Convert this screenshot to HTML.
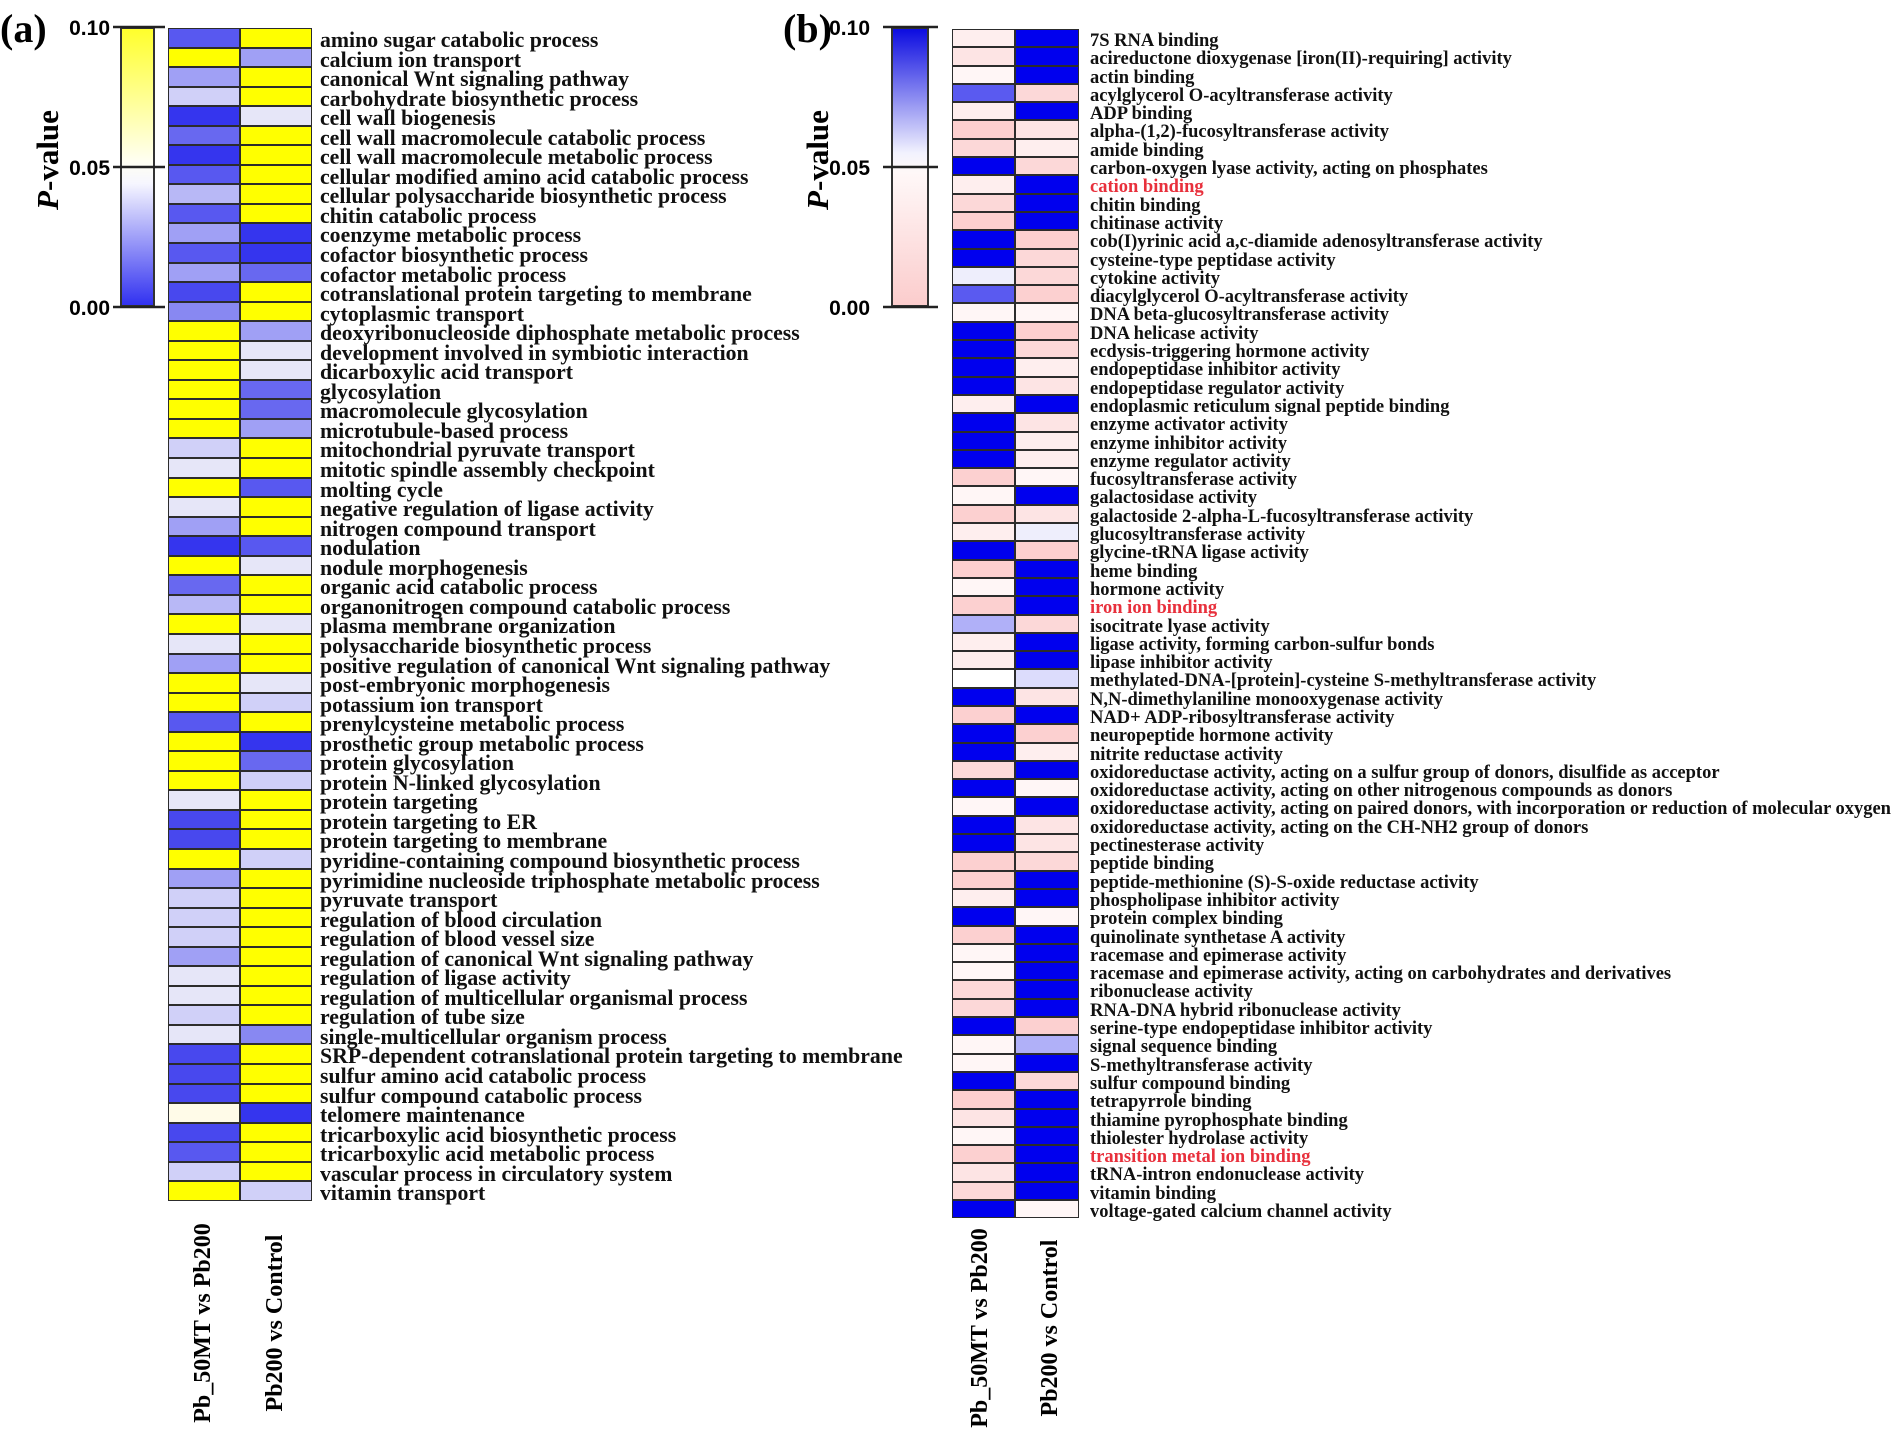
<!DOCTYPE html>
<html><head><meta charset="utf-8"><style>
body{margin:0;width:1894px;height:1439px;background:#fff;position:relative;overflow:hidden;font-family:"Liberation Serif",serif}
.hm{position:absolute}
.r{display:flex;align-items:stretch}
.ha .r{height:19.56px}
.hb .r{height:18.3px}
.c{box-sizing:border-box;border:1px solid #2c2c2c;flex:none}
.ha .c{width:72px}
.hb .c1{width:63px}.hb .c2{width:64px}
.l{white-space:nowrap;font-weight:bold;position:relative;color:#111}
.ha .l{font-size:21.8px;line-height:19.56px;padding-left:8px;top:3px}
.hb .l{font-size:18.5px;line-height:18.3px;padding-left:11px;top:3px}
.red{color:#e8303c}
.y{background:#ffff00}.b1{background:#3535ee}.b2{background:#4848ee}.b3{background:#5858f0}.b4{background:#6868f0}.b5{background:#8888f2}.b6{background:#a0a0f5}.b7{background:#b8b8f6}.b8{background:#d0d0f8}.b9{background:#e6e6f8}.cr{background:#fffbe8}
.B{background:#0000ee}.p1{background:#fcd0d0}.p2{background:#fcd8d8}.p3{background:#fde4e4}.p4{background:#feeeee}.p5{background:#fff6f6}.w{background:#fff}.m1{background:#5a5af0}.m2{background:#b0b0f8}.m3{background:#dcdcfc}.m4{background:#eeeefc}
svg{position:absolute;left:0;top:0}
</style></head><body>
<svg width="1894" height="1439">
<defs>
<linearGradient id="ga" x1="0" y1="0" x2="0" y2="1"><stop offset="0" stop-color="#ffff2a"/><stop offset="0.48" stop-color="#fffff2"/><stop offset="0.56" stop-color="#f6f6ff"/><stop offset="1" stop-color="#3030f0"/></linearGradient>
<linearGradient id="gb" x1="0" y1="0" x2="0" y2="1"><stop offset="0" stop-color="#0a0ae0"/><stop offset="0.45" stop-color="#f2f2fe"/><stop offset="0.52" stop-color="#fff8f8"/><stop offset="1" stop-color="#fbcccc"/></linearGradient>
</defs>
<text x="0" y="42" font-family="Liberation Serif" font-weight="bold" font-size="40">(a)</text>
<text x="783" y="42" font-family="Liberation Serif" font-weight="bold" font-size="40">(b)</text>
<rect x="121" y="28" width="33" height="278" fill="url(#ga)" stroke="#333" stroke-width="2"/>
<g stroke="#222" stroke-width="2.5"><line x1="113" y1="27" x2="165" y2="27"/><line x1="113" y1="167" x2="165" y2="167"/><line x1="113" y1="307" x2="165" y2="307"/></g>
<g font-family="Liberation Sans" font-weight="bold" font-size="21" text-anchor="end"><text x="110" y="35">0.10</text><text x="110" y="175">0.05</text><text x="110" y="315">0.00</text></g>
<text transform="translate(58,160) rotate(-90)" text-anchor="middle" font-family="Liberation Serif" font-weight="bold" font-size="31"><tspan font-style="italic">P</tspan>-value</text>
<rect x="892" y="28" width="36" height="278" fill="url(#gb)" stroke="#333" stroke-width="2"/>
<g stroke="#222" stroke-width="2.5"><line x1="883" y1="27" x2="938" y2="27"/><line x1="883" y1="167" x2="938" y2="167"/><line x1="883" y1="307" x2="938" y2="307"/></g>
<g font-family="Liberation Sans" font-weight="bold" font-size="21" text-anchor="end"><text x="870" y="35">0.10</text><text x="870" y="175">0.05</text><text x="870" y="315">0.00</text></g>
<text transform="translate(828,160) rotate(-90)" text-anchor="middle" font-family="Liberation Serif" font-weight="bold" font-size="31"><tspan font-style="italic">P</tspan>-value</text>
<g font-family="Liberation Serif" font-weight="bold" font-size="24" text-anchor="middle">
<text transform="translate(210,1323) rotate(-90)">Pb_50MT vs Pb200</text>
<text transform="translate(282,1323) rotate(-90)">Pb200 vs Control</text>
<text transform="translate(987,1328) rotate(-90)">Pb_50MT vs Pb200</text>
<text transform="translate(1057,1328) rotate(-90)">Pb200 vs Control</text>
</g>
</svg>

<div class="hm ha" style="left:168px;top:28px">
<div class="r"><div class="c b3"></div><div class="c y"></div><div class="l">amino sugar catabolic process</div></div>
<div class="r"><div class="c y"></div><div class="c b6"></div><div class="l">calcium ion transport</div></div>
<div class="r"><div class="c b6"></div><div class="c y"></div><div class="l">canonical Wnt signaling pathway</div></div>
<div class="r"><div class="c b8"></div><div class="c y"></div><div class="l">carbohydrate biosynthetic process</div></div>
<div class="r"><div class="c b1"></div><div class="c b9"></div><div class="l">cell wall biogenesis</div></div>
<div class="r"><div class="c b4"></div><div class="c y"></div><div class="l">cell wall macromolecule catabolic process</div></div>
<div class="r"><div class="c b1"></div><div class="c y"></div><div class="l">cell wall macromolecule metabolic process</div></div>
<div class="r"><div class="c b3"></div><div class="c y"></div><div class="l">cellular modified amino acid catabolic process</div></div>
<div class="r"><div class="c b7"></div><div class="c y"></div><div class="l">cellular polysaccharide biosynthetic process</div></div>
<div class="r"><div class="c b3"></div><div class="c y"></div><div class="l">chitin catabolic process</div></div>
<div class="r"><div class="c b6"></div><div class="c b1"></div><div class="l">coenzyme metabolic process</div></div>
<div class="r"><div class="c b3"></div><div class="c b1"></div><div class="l">cofactor biosynthetic process</div></div>
<div class="r"><div class="c b6"></div><div class="c b4"></div><div class="l">cofactor metabolic process</div></div>
<div class="r"><div class="c b2"></div><div class="c y"></div><div class="l">cotranslational protein targeting to membrane</div></div>
<div class="r"><div class="c b5"></div><div class="c y"></div><div class="l">cytoplasmic transport</div></div>
<div class="r"><div class="c y"></div><div class="c b6"></div><div class="l">deoxyribonucleoside diphosphate metabolic process</div></div>
<div class="r"><div class="c y"></div><div class="c b9"></div><div class="l">development involved in symbiotic interaction</div></div>
<div class="r"><div class="c y"></div><div class="c b9"></div><div class="l">dicarboxylic acid transport</div></div>
<div class="r"><div class="c y"></div><div class="c b4"></div><div class="l">glycosylation</div></div>
<div class="r"><div class="c y"></div><div class="c b4"></div><div class="l">macromolecule glycosylation</div></div>
<div class="r"><div class="c y"></div><div class="c b6"></div><div class="l">microtubule-based process</div></div>
<div class="r"><div class="c b8"></div><div class="c y"></div><div class="l">mitochondrial pyruvate transport</div></div>
<div class="r"><div class="c b9"></div><div class="c y"></div><div class="l">mitotic spindle assembly checkpoint</div></div>
<div class="r"><div class="c y"></div><div class="c b3"></div><div class="l">molting cycle</div></div>
<div class="r"><div class="c b9"></div><div class="c y"></div><div class="l">negative regulation of ligase activity</div></div>
<div class="r"><div class="c b6"></div><div class="c y"></div><div class="l">nitrogen compound transport</div></div>
<div class="r"><div class="c b1"></div><div class="c b3"></div><div class="l">nodulation</div></div>
<div class="r"><div class="c y"></div><div class="c b9"></div><div class="l">nodule morphogenesis</div></div>
<div class="r"><div class="c b4"></div><div class="c y"></div><div class="l">organic acid catabolic process</div></div>
<div class="r"><div class="c b7"></div><div class="c y"></div><div class="l">organonitrogen compound catabolic process</div></div>
<div class="r"><div class="c y"></div><div class="c b9"></div><div class="l">plasma membrane organization</div></div>
<div class="r"><div class="c b9"></div><div class="c y"></div><div class="l">polysaccharide biosynthetic process</div></div>
<div class="r"><div class="c b6"></div><div class="c y"></div><div class="l">positive regulation of canonical Wnt signaling pathway</div></div>
<div class="r"><div class="c y"></div><div class="c b9"></div><div class="l">post-embryonic morphogenesis</div></div>
<div class="r"><div class="c y"></div><div class="c b8"></div><div class="l">potassium ion transport</div></div>
<div class="r"><div class="c b3"></div><div class="c y"></div><div class="l">prenylcysteine metabolic process</div></div>
<div class="r"><div class="c y"></div><div class="c b1"></div><div class="l">prosthetic group metabolic process</div></div>
<div class="r"><div class="c y"></div><div class="c b4"></div><div class="l">protein glycosylation</div></div>
<div class="r"><div class="c y"></div><div class="c b8"></div><div class="l">protein N-linked glycosylation</div></div>
<div class="r"><div class="c b9"></div><div class="c y"></div><div class="l">protein targeting</div></div>
<div class="r"><div class="c b2"></div><div class="c y"></div><div class="l">protein targeting to ER</div></div>
<div class="r"><div class="c b2"></div><div class="c y"></div><div class="l">protein targeting to membrane</div></div>
<div class="r"><div class="c y"></div><div class="c b8"></div><div class="l">pyridine-containing compound biosynthetic process</div></div>
<div class="r"><div class="c b6"></div><div class="c y"></div><div class="l">pyrimidine nucleoside triphosphate metabolic process</div></div>
<div class="r"><div class="c b8"></div><div class="c y"></div><div class="l">pyruvate transport</div></div>
<div class="r"><div class="c b8"></div><div class="c y"></div><div class="l">regulation of blood circulation</div></div>
<div class="r"><div class="c b8"></div><div class="c y"></div><div class="l">regulation of blood vessel size</div></div>
<div class="r"><div class="c b6"></div><div class="c y"></div><div class="l">regulation of canonical Wnt signaling pathway</div></div>
<div class="r"><div class="c b9"></div><div class="c y"></div><div class="l">regulation of ligase activity</div></div>
<div class="r"><div class="c b9"></div><div class="c y"></div><div class="l">regulation of multicellular organismal process</div></div>
<div class="r"><div class="c b8"></div><div class="c y"></div><div class="l">regulation of tube size</div></div>
<div class="r"><div class="c b9"></div><div class="c b5"></div><div class="l">single-multicellular organism process</div></div>
<div class="r"><div class="c b2"></div><div class="c y"></div><div class="l">SRP-dependent cotranslational protein targeting to membrane</div></div>
<div class="r"><div class="c b2"></div><div class="c y"></div><div class="l">sulfur amino acid catabolic process</div></div>
<div class="r"><div class="c b2"></div><div class="c y"></div><div class="l">sulfur compound catabolic process</div></div>
<div class="r"><div class="c cr"></div><div class="c b1"></div><div class="l">telomere maintenance</div></div>
<div class="r"><div class="c b2"></div><div class="c y"></div><div class="l">tricarboxylic acid biosynthetic process</div></div>
<div class="r"><div class="c b3"></div><div class="c y"></div><div class="l">tricarboxylic acid metabolic process</div></div>
<div class="r"><div class="c b8"></div><div class="c y"></div><div class="l">vascular process in circulatory system</div></div>
<div class="r"><div class="c y"></div><div class="c b8"></div><div class="l">vitamin transport</div></div>
</div>

<div class="hm hb" style="left:952px;top:29px">
<div class="r"><div class="c c1 p4"></div><div class="c c2 B"></div><div class="l">7S RNA binding</div></div>
<div class="r"><div class="c c1 p3"></div><div class="c c2 B"></div><div class="l">acireductone dioxygenase [iron(II)-requiring] activity</div></div>
<div class="r"><div class="c c1 p5"></div><div class="c c2 B"></div><div class="l">actin binding</div></div>
<div class="r"><div class="c c1 m1"></div><div class="c c2 p2"></div><div class="l">acylglycerol O-acyltransferase activity</div></div>
<div class="r"><div class="c c1 p4"></div><div class="c c2 B"></div><div class="l">ADP binding</div></div>
<div class="r"><div class="c c1 p1"></div><div class="c c2 p3"></div><div class="l">alpha-(1,2)-fucosyltransferase activity</div></div>
<div class="r"><div class="c c1 p2"></div><div class="c c2 p4"></div><div class="l">amide binding</div></div>
<div class="r"><div class="c c1 B"></div><div class="c c2 p2"></div><div class="l">carbon-oxygen lyase activity, acting on phosphates</div></div>
<div class="r"><div class="c c1 p4"></div><div class="c c2 B"></div><div class="l red">cation binding</div></div>
<div class="r"><div class="c c1 p2"></div><div class="c c2 B"></div><div class="l">chitin binding</div></div>
<div class="r"><div class="c c1 p1"></div><div class="c c2 B"></div><div class="l">chitinase activity</div></div>
<div class="r"><div class="c c1 B"></div><div class="c c2 p1"></div><div class="l">cob(I)yrinic acid a,c-diamide adenosyltransferase activity</div></div>
<div class="r"><div class="c c1 B"></div><div class="c c2 p2"></div><div class="l">cysteine-type peptidase activity</div></div>
<div class="r"><div class="c c1 m4"></div><div class="c c2 p2"></div><div class="l">cytokine activity</div></div>
<div class="r"><div class="c c1 m1"></div><div class="c c2 p1"></div><div class="l">diacylglycerol O-acyltransferase activity</div></div>
<div class="r"><div class="c c1 p5"></div><div class="c c2 p5"></div><div class="l">DNA beta-glucosyltransferase activity</div></div>
<div class="r"><div class="c c1 B"></div><div class="c c2 p1"></div><div class="l">DNA helicase activity</div></div>
<div class="r"><div class="c c1 B"></div><div class="c c2 p2"></div><div class="l">ecdysis-triggering hormone activity</div></div>
<div class="r"><div class="c c1 B"></div><div class="c c2 p4"></div><div class="l">endopeptidase inhibitor activity</div></div>
<div class="r"><div class="c c1 B"></div><div class="c c2 p3"></div><div class="l">endopeptidase regulator activity</div></div>
<div class="r"><div class="c c1 p4"></div><div class="c c2 B"></div><div class="l">endoplasmic reticulum signal peptide binding</div></div>
<div class="r"><div class="c c1 B"></div><div class="c c2 p3"></div><div class="l">enzyme activator activity</div></div>
<div class="r"><div class="c c1 B"></div><div class="c c2 p4"></div><div class="l">enzyme inhibitor activity</div></div>
<div class="r"><div class="c c1 B"></div><div class="c c2 p4"></div><div class="l">enzyme regulator activity</div></div>
<div class="r"><div class="c c1 p1"></div><div class="c c2 p5"></div><div class="l">fucosyltransferase activity</div></div>
<div class="r"><div class="c c1 p5"></div><div class="c c2 B"></div><div class="l">galactosidase activity</div></div>
<div class="r"><div class="c c1 p1"></div><div class="c c2 p3"></div><div class="l">galactoside 2-alpha-L-fucosyltransferase activity</div></div>
<div class="r"><div class="c c1 p4"></div><div class="c c2 m4"></div><div class="l">glucosyltransferase activity</div></div>
<div class="r"><div class="c c1 B"></div><div class="c c2 p1"></div><div class="l">glycine-tRNA ligase activity</div></div>
<div class="r"><div class="c c1 p1"></div><div class="c c2 B"></div><div class="l">heme binding</div></div>
<div class="r"><div class="c c1 p5"></div><div class="c c2 B"></div><div class="l">hormone activity</div></div>
<div class="r"><div class="c c1 p1"></div><div class="c c2 B"></div><div class="l red">iron ion binding</div></div>
<div class="r"><div class="c c1 m2"></div><div class="c c2 p2"></div><div class="l">isocitrate lyase activity</div></div>
<div class="r"><div class="c c1 p4"></div><div class="c c2 B"></div><div class="l">ligase activity, forming carbon-sulfur bonds</div></div>
<div class="r"><div class="c c1 p4"></div><div class="c c2 B"></div><div class="l">lipase inhibitor activity</div></div>
<div class="r"><div class="c c1 w"></div><div class="c c2 m3"></div><div class="l">methylated-DNA-[protein]-cysteine S-methyltransferase activity</div></div>
<div class="r"><div class="c c1 B"></div><div class="c c2 p3"></div><div class="l">N,N-dimethylaniline monooxygenase activity</div></div>
<div class="r"><div class="c c1 p1"></div><div class="c c2 B"></div><div class="l">NAD+ ADP-ribosyltransferase activity</div></div>
<div class="r"><div class="c c1 B"></div><div class="c c2 p1"></div><div class="l">neuropeptide hormone activity</div></div>
<div class="r"><div class="c c1 B"></div><div class="c c2 p4"></div><div class="l">nitrite reductase activity</div></div>
<div class="r"><div class="c c1 p2"></div><div class="c c2 B"></div><div class="l">oxidoreductase activity, acting on a sulfur group of donors, disulfide as acceptor</div></div>
<div class="r"><div class="c c1 B"></div><div class="c c2 p5"></div><div class="l">oxidoreductase activity, acting on other nitrogenous compounds as donors</div></div>
<div class="r"><div class="c c1 p5"></div><div class="c c2 B"></div><div class="l">oxidoreductase activity, acting on paired donors, with incorporation or reduction of molecular oxygen</div></div>
<div class="r"><div class="c c1 B"></div><div class="c c2 p3"></div><div class="l">oxidoreductase activity, acting on the CH-NH2 group of donors</div></div>
<div class="r"><div class="c c1 B"></div><div class="c c2 p3"></div><div class="l">pectinesterase activity</div></div>
<div class="r"><div class="c c1 p1"></div><div class="c c2 p2"></div><div class="l">peptide binding</div></div>
<div class="r"><div class="c c1 p1"></div><div class="c c2 B"></div><div class="l">peptide-methionine (S)-S-oxide reductase activity</div></div>
<div class="r"><div class="c c1 p4"></div><div class="c c2 B"></div><div class="l">phospholipase inhibitor activity</div></div>
<div class="r"><div class="c c1 B"></div><div class="c c2 p5"></div><div class="l">protein complex binding</div></div>
<div class="r"><div class="c c1 p1"></div><div class="c c2 B"></div><div class="l">quinolinate synthetase A activity</div></div>
<div class="r"><div class="c c1 p5"></div><div class="c c2 B"></div><div class="l">racemase and epimerase activity</div></div>
<div class="r"><div class="c c1 p5"></div><div class="c c2 B"></div><div class="l">racemase and epimerase activity, acting on carbohydrates and derivatives</div></div>
<div class="r"><div class="c c1 p2"></div><div class="c c2 B"></div><div class="l">ribonuclease activity</div></div>
<div class="r"><div class="c c1 p2"></div><div class="c c2 B"></div><div class="l">RNA-DNA hybrid ribonuclease activity</div></div>
<div class="r"><div class="c c1 B"></div><div class="c c2 p1"></div><div class="l">serine-type endopeptidase inhibitor activity</div></div>
<div class="r"><div class="c c1 p5"></div><div class="c c2 m2"></div><div class="l">signal sequence binding</div></div>
<div class="r"><div class="c c1 p5"></div><div class="c c2 B"></div><div class="l">S-methyltransferase activity</div></div>
<div class="r"><div class="c c1 B"></div><div class="c c2 p2"></div><div class="l">sulfur compound binding</div></div>
<div class="r"><div class="c c1 p1"></div><div class="c c2 B"></div><div class="l">tetrapyrrole binding</div></div>
<div class="r"><div class="c c1 p3"></div><div class="c c2 B"></div><div class="l">thiamine pyrophosphate binding</div></div>
<div class="r"><div class="c c1 p5"></div><div class="c c2 B"></div><div class="l">thiolester hydrolase activity</div></div>
<div class="r"><div class="c c1 p1"></div><div class="c c2 B"></div><div class="l red">transition metal ion binding</div></div>
<div class="r"><div class="c c1 p3"></div><div class="c c2 B"></div><div class="l">tRNA-intron endonuclease activity</div></div>
<div class="r"><div class="c c1 p2"></div><div class="c c2 B"></div><div class="l">vitamin binding</div></div>
<div class="r"><div class="c c1 B"></div><div class="c c2 p5"></div><div class="l">voltage-gated calcium channel activity</div></div>
</div>
</body></html>
